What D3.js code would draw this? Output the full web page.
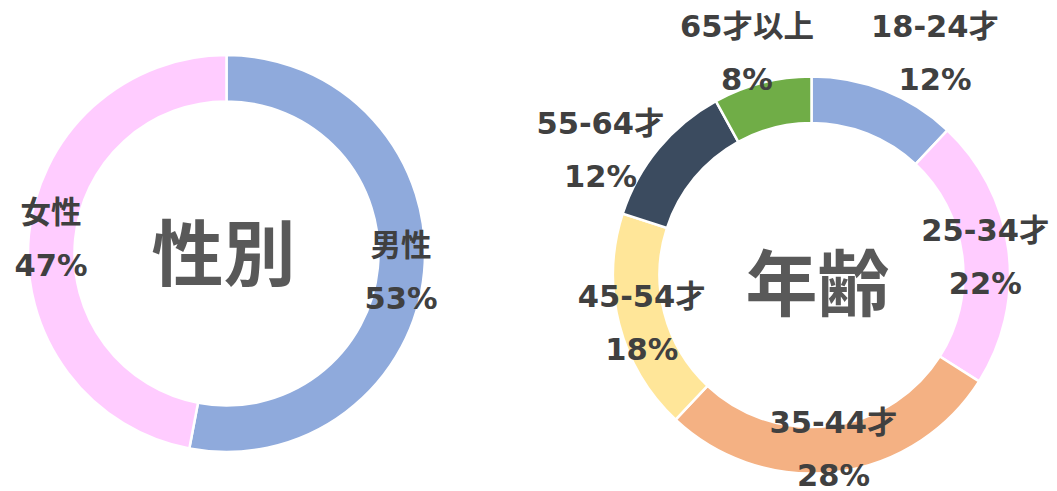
<!DOCTYPE html>
<html>
<head>
<meta charset="utf-8">
<script src="https://cdn.jsdelivr.net/npm/d3@7"></script>
<style>
  html, body { margin: 0; padding: 0; background: #fff; }
  svg { display: block; }
  text { font-family: "DejaVu Sans", "Noto Sans CJK JP", sans-serif; font-weight: bold; }
</style>
</head>
<body>
<svg id="chart" width="1057" height="491"></svg>
<script>
// ---- data ----
const genderCategories = ["男性", "女性"];
const genderValues = [53, 47];
const genderColors = ["#8FAADC", "#FFCCFF"];

const ageCategories = ["18-24才", "25-34才", "35-44才", "45-54才", "55-64才", "65才以上"];
const ageValues = [12, 22, 28, 18, 12, 8];
const ageColors = ["#8FAADC", "#FFCCFF", "#F4B183", "#FFE699", "#3B4B5F", "#70AD47"];

// ---- layout (label nudges from arc centroid, pixels) ----
const genderNudge = [[0, 2], [-1, 2]];
const ageNudge = [[59, -59], [0, 4], [0, 0], [0, 4], [-76, -13], [-21, -52]];

const svg = d3.select("#chart");
const innerR = 152, outerR = 198.5, labelR = (innerR + outerR) / 2;

function donut(cx, cy, cats, vals, colors, nudges, title, titleDx, titleDy) {
  const g = svg.append("g").attr("transform", `translate(${cx},${cy})`);
  const total = d3.sum(vals);
  const pie = d3.pie().sort(null).value(d => d.v);
  const data = cats.map((c, i) => ({ c, v: vals[i], color: colors[i], n: nudges[i] }));
  const arcs = pie(data);
  const arc = d3.arc().innerRadius(innerR).outerRadius(outerR);
  const lab = d3.arc().innerRadius(labelR).outerRadius(labelR);

  g.selectAll("path").data(arcs).join("path")
    .attr("d", arc)
    .attr("fill", d => d.data.color)
    .attr("stroke", "#fff")
    .attr("stroke-width", 2.5);

  const lg = g.selectAll("g.lbl").data(arcs).join("g").attr("class", "lbl")
    .attr("transform", d => {
      const [x, y] = lab.centroid(d);
      return `translate(${x + d.data.n[0]},${y + d.data.n[1]})`;
    });
  lg.append("text")
    .attr("text-anchor", "middle").attr("dominant-baseline", "central")
    .attr("y", -26.5).attr("font-size", 30.5).attr("fill", "#404040")
    .text(d => d.data.c);
  lg.append("text")
    .attr("text-anchor", "middle").attr("dominant-baseline", "central")
    .attr("y", 26.5).attr("font-size", 30.5).attr("fill", "#404040")
    .text(d => Math.round(d.data.v / total * 100) + "%");

  g.append("text")
    .attr("x", titleDx).attr("y", titleDy)
    .attr("text-anchor", "middle").attr("dominant-baseline", "central")
    .attr("font-size", 72).attr("fill", "#595959")
    .style("font-family", "'Noto Sans CJK JP', sans-serif")
    .text(title);
}

donut(226.5, 253.5, genderCategories, genderValues, genderColors, genderNudge, "性別", -3, -5);
donut(811.5, 275, ageCategories, ageValues, ageColors, ageNudge, "年齢", 6, 3);
</script>
</body>
</html>
